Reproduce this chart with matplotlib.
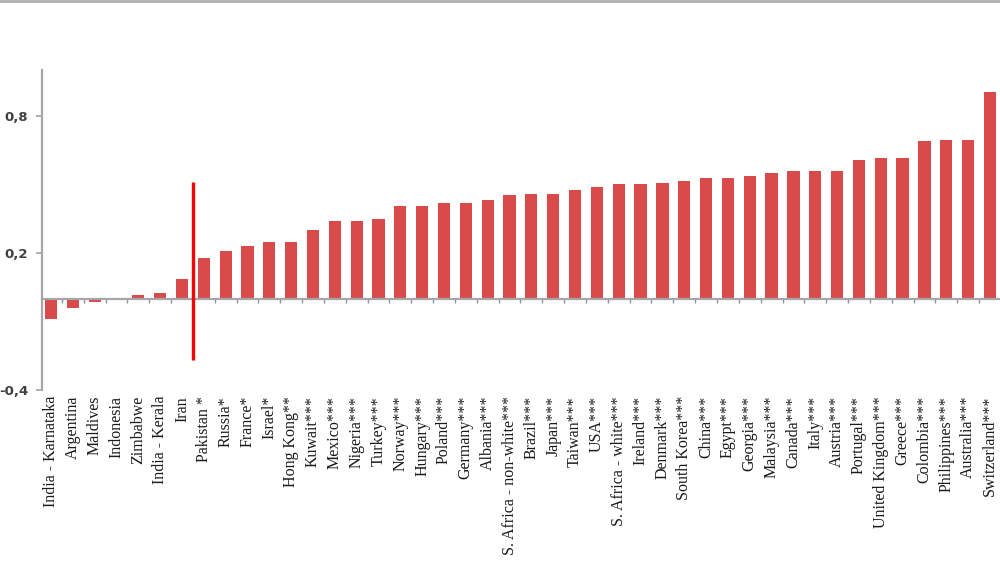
import matplotlib
matplotlib.use("Agg")
import matplotlib.pyplot as plt
from matplotlib.lines import Line2D
from matplotlib.ticker import FuncFormatter, FixedLocator
import numpy as np

# country labels (stars = significance level)
countries = [
    "India - Karnataka", "Argentina", "Maldives", "Indonesia", "Zimbabwe",
    "India - Kerala", "Iran", "Pakistan *", "Russia*", "France*", "Israel*",
    "Hong Kong**", "Kuwait***", "Mexico***", "Nigeria***", "Turkey***",
    "Norway***", "Hungary***", "Poland***", "Germany***", "Albania***",
    "S. Africa - non-white***", "Brazil***", "Japan***", "Taiwan***", "USA***",
    "S. Africa - white***", "Ireland***", "Denmark***", "South Korea***",
    "China***", "Egypt***", "Georgia***", "Malaysia***", "Canada***",
    "Italy***", "Austria***", "Portugal***", "United Kingdom***", "Greece***",
    "Colombia***", "Philippines***", "Australia***", "Switzerland***",
]
values = [
    -0.088, -0.04, -0.015, 0.0, 0.018,
    0.026, 0.088, 0.18, 0.21, 0.23, 0.25,
    0.25, 0.30, 0.342, 0.342, 0.35,
    0.407, 0.405, 0.42, 0.42, 0.433,
    0.453, 0.46, 0.46, 0.474, 0.49,
    0.503, 0.503, 0.506, 0.515,
    0.528, 0.528, 0.535, 0.548, 0.557,
    0.557, 0.557, 0.605, 0.618, 0.618,
    0.689, 0.696, 0.696, 0.905,
]
# red divider between non-significant and significant countries
divider_x = 6.5
divider_y = (-0.27, 0.51)
yticks = [-0.4, 0.2, 0.8]

fig = plt.figure(figsize=(10, 5.62), dpi=100)
ax = fig.add_axes([0.042, 0.306, 0.958, 0.569])

x = np.arange(len(countries))
ax.bar(x, values, width=0.56, color="#d94a4a", zorder=2)
ax.vlines(divider_x, divider_y[0], divider_y[1], color="#ff0000", linewidth=2.4, zorder=3)

ax.set_xlim(-0.41, len(countries) - 0.54)
ax.set_ylim(-0.4, 1.0)

axis_gray = "#a6a6a6"
for side in ["top", "right"]:
    ax.spines[side].set_visible(False)
ax.spines["left"].set_color(axis_gray)
ax.spines["left"].set_linewidth(1.6)
ax.spines["bottom"].set_position(("data", 0))
ax.spines["bottom"].set_color(axis_gray)
ax.spines["bottom"].set_linewidth(1.6)

ax.set_yticks(yticks)
ax.yaxis.set_major_formatter(FuncFormatter(lambda v, p: ("%.1f" % v).replace(".", ",")))
ax.tick_params(axis="y", direction="out", length=4, width=1.2, color=axis_gray,
               labelsize=9.5, labelcolor="#404040", pad=6)
for lab in ax.get_yticklabels():
    lab.set_fontweight("bold")

ax.set_xticks(x)
ax.set_xticklabels(countries, rotation=90, fontsize=11.5, family="Liberation Serif",
                   color="#1a1a1a")
ax.tick_params(axis="x", which="major", length=0, pad=70)
ax.xaxis.set_minor_locator(FixedLocator(x[:-1] + 0.5))
ax.tick_params(axis="x", which="minor", direction="out", length=3, width=1, color="#8a94a6")

# thin grey frame line at the very top of the picture
fig.add_artist(Line2D([0, 1], [0.998, 0.998], transform=fig.transFigure,
                      color="#b0b0b0", linewidth=2))

fig.savefig("out.png", dpi=100)
